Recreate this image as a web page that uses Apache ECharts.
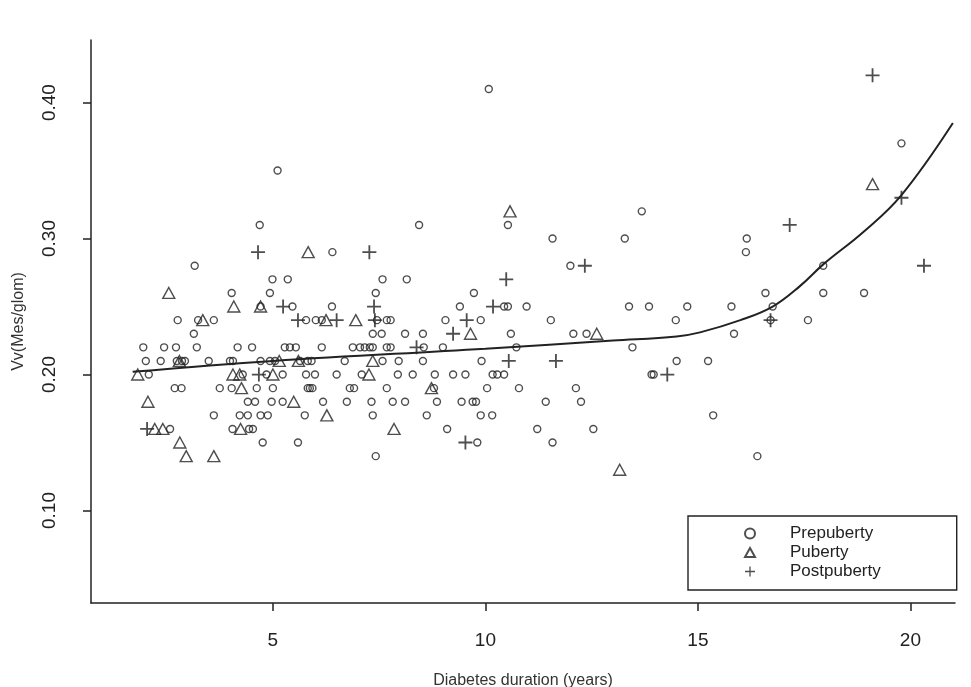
<!DOCTYPE html>
<html>
<head>
<meta charset="utf-8">
<script src="https://cdn.jsdelivr.net/npm/echarts@6/dist/echarts.min.js"></script>
<style>html,body{margin:0;padding:0;background:#fff}#chart{width:971px;height:687px}</style>
</head>
<body>
<div id="chart"></div>
<script>
// values: [duration, Vv]
var prepuberty = [
	[4.03,0.26],[4.93,0.26],[4.99,0.27],[5.35,0.27],[5.46,0.25],[4.71,0.25],
	[2.76,0.24],[3.24,0.24],[3.61,0.24],[5.78,0.24],[3.14,0.23],
	[1.95,0.22],[2.44,0.22],[2.72,0.22],[3.21,0.22],[4.17,0.22],[4.51,0.22],[5.28,0.22],[5.40,0.22],[5.54,0.22],
	[2.01,0.21],[2.36,0.21],[2.74,0.21],[2.86,0.21],[2.93,0.21],[3.49,0.21],[3.99,0.21],[4.06,0.21],[4.71,0.21],[4.93,0.21],[5.05,0.21],[5.64,0.21],[5.82,0.21],
	[2.08,0.20],[4.29,0.20],[4.85,0.20],[5.23,0.20],[5.78,0.20],
	[2.69,0.19],[2.85,0.19],[3.75,0.19],[4.03,0.19],[4.62,0.19],[5.00,0.19],[5.82,0.19],
	[4.41,0.18],[4.58,0.18],[4.97,0.18],[5.23,0.18],
	[3.61,0.17],[4.22,0.17],[4.41,0.17],[4.71,0.17],[4.88,0.17],[5.75,0.17],
	[2.58,0.16],[4.05,0.16],[4.44,0.16],[4.53,0.16],[4.76,0.15],[5.59,0.15],
	[7.58,0.27],[8.15,0.27],[7.42,0.26],[9.73,0.26],
	[6.39,0.25],[9.40,0.25],[10.44,0.25],[10.53,0.25],[10.97,0.25],
	[6.01,0.24],[6.15,0.24],[7.45,0.24],[7.68,0.24],[7.77,0.24],[9.06,0.24],[9.89,0.24],
	[7.35,0.23],[7.56,0.23],[8.11,0.23],[8.53,0.23],[10.60,0.23],
	[6.15,0.22],[6.88,0.22],[7.05,0.22],[7.16,0.22],[7.28,0.22],[7.35,0.22],[7.68,0.22],[7.77,0.22],[8.55,0.22],[9.00,0.22],[10.73,0.22],
	[5.91,0.21],[6.69,0.21],[7.58,0.21],[7.96,0.21],[8.53,0.21],[9.91,0.21],
	[5.99,0.20],[6.50,0.20],[7.09,0.20],[7.94,0.20],[8.29,0.20],[8.81,0.20],[9.24,0.20],[9.53,0.20],[10.17,0.20],[10.28,0.20],[10.44,0.20],
	[5.87,0.19],[5.93,0.19],[6.81,0.19],[6.91,0.19],[7.68,0.19],[8.79,0.19],[10.04,0.19],[10.79,0.19],
	[6.18,0.18],[6.74,0.18],[7.32,0.18],[7.82,0.18],[8.11,0.18],[8.86,0.18],[9.44,0.18],[9.70,0.18],[9.78,0.18],
	[7.35,0.17],[8.62,0.17],[9.89,0.17],[10.16,0.17],[9.10,0.16],[9.81,0.15],[7.42,0.14],
	[10.08,0.41],[5.11,0.35],[13.68,0.32],[10.53,0.31],[4.69,0.31],[8.44,0.31],
	[11.58,0.30],[13.28,0.30],[16.15,0.30],[16.13,0.29],[6.40,0.29],[12.00,0.28],[3.16,0.28],
	[16.59,0.26],[13.38,0.25],[13.85,0.25],[14.75,0.25],[15.79,0.25],[16.76,0.25],
	[11.54,0.24],[14.48,0.24],[16.71,0.24],[12.07,0.23],[12.38,0.23],[15.85,0.23],
	[13.46,0.22],[14.50,0.21],[15.24,0.21],[13.91,0.20],[13.96,0.20],[12.13,0.19],
	[11.42,0.18],[12.25,0.18],[15.36,0.17],[11.22,0.16],[12.54,0.16],[11.58,0.15],[16.40,0.14],
	[19.79,0.37],[17.95,0.28],[17.95,0.26],[18.91,0.26],[17.59,0.24]
]
var puberty = [
	[2.55,0.26],[4.08,0.25],[4.71,0.25],[3.35,0.24],[2.80,0.21],[5.60,0.21],[5.15,0.21],
	[1.82,0.20],[4.06,0.20],[4.22,0.20],[5.00,0.20],[4.26,0.19],[2.06,0.18],[5.49,0.18],
	[2.22,0.16],[2.41,0.16],[4.24,0.16],[2.81,0.15],[2.96,0.14],[3.61,0.14],
	[6.25,0.24],[6.95,0.24],[9.65,0.23],[7.35,0.21],[7.26,0.20],[8.73,0.19],[6.27,0.17],[7.85,0.16],
	[10.58,0.32],[12.62,0.23],[13.16,0.13],[5.83,0.29],[19.11,0.34]
]
var postpuberty = [
	[4.67,0.20],[2.04,0.16],[5.24,0.25],[5.59,0.24],[10.49,0.27],[7.38,0.25],[10.18,0.25],
	[6.50,0.24],[7.40,0.24],[9.56,0.24],[9.24,0.23],[8.38,0.22],[10.55,0.21],[9.53,0.15],
	[12.34,0.28],[11.66,0.21],[14.28,0.20],[16.71,0.24],[17.16,0.31],[4.65,0.29],[7.27,0.29],
	[19.11,0.42],[19.79,0.33],[20.32,0.28]
]
var smoothFit = [
	[1.7,0.202],[5,0.210],[10,0.219],[13,0.225],[14.5,0.228],[15.05,0.231],[16,0.240],
	[16.76,0.250],[17.4,0.265],[17.95,0.281],[18.9,0.305],[19.79,0.332],[21,0.385]
]
var xTicks = [5, 10, 15, 20]
var yTicks = [0.1, 0.2, 0.3, 0.4]

var TRI = 'path://M5,0 L10,9 L0,9 Z'
var PLUS = 'path://M4.35,0 L5.65,0 L5.65,4.35 L10,4.35 L10,5.65 L5.65,5.65 L5.65,10 L4.35,10 L4.35,5.65 L0,5.65 L0,4.35 L4.35,4.35 Z'
var font = 'Liberation Sans'

var chart = echarts.init(document.getElementById('chart'))
var markStyle = { color: 'transparent', borderColor: '#222', borderWidth: 1.4 }

chart.setOption({
	animation: false,
	backgroundColor: '#fff',
	textStyle: { fontFamily: font },
	grid: { left: 91, right: 16, top: 40, bottom: 84, containLabel: false, outerBoundsMode: 'none' },
	xAxis: {
		type: 'value', min: 0.72, max: 21.05,
		name: 'Diabetes duration (years)', nameLocation: 'middle', nameGap: 70,
		nameTextStyle: { fontSize: 16, color: '#333' },
		axisLine: { lineStyle: { color: '#222', width: 1.5 } },
		axisTick: { length: 8, customValues: xTicks, lineStyle: { color: '#222', width: 1.5 } },
		axisLabel: { customValues: xTicks, margin: 28, fontSize: 19, color: '#222' },
		splitLine: { show: false }
	},
	yAxis: {
		type: 'value', min: 0.032, max: 0.446,
		name: 'Vv(Mes/glom)', nameLocation: 'middle', nameGap: 64, nameRotate: 90,
		nameTextStyle: { fontSize: 16, color: '#333' },
		axisLine: { show: true, lineStyle: { color: '#222', width: 1.5 } },
		axisTick: { show: true, length: 8, customValues: yTicks, lineStyle: { color: '#222', width: 1.5 } },
		axisLabel: { customValues: yTicks, rotate: 90, margin: 32, fontSize: 19, color: '#222',
			formatter: function (v) { return v.toFixed(2) } },
		splitLine: { show: false }
	},
	legend: {
		left: 688, top: 516, orient: 'vertical',
		padding: [9, 76, 10, 56], itemGap: 2, itemWidth: 10, itemHeight: 10,
		borderColor: '#222', borderWidth: 1.4, backgroundColor: '#fff',
		textStyle: { fontSize: 17, color: '#222', padding: [0, 0, 0, 30] },
		data: [
			{ name: 'Prepuberty', icon: 'circle' },
			{ name: 'Puberty', icon: TRI },
			{ name: 'Postpuberty', icon: PLUS }
		]
	},
	series: [
		{ name: 'Prepuberty', type: 'scatter', symbol: 'circle', symbolSize: 7, itemStyle: markStyle, data: prepuberty },
		{ name: 'Puberty', type: 'scatter', symbol: TRI, symbolSize: [12, 11], itemStyle: markStyle, data: puberty },
		{ name: 'Postpuberty', type: 'scatter', symbol: PLUS, symbolSize: 14,
			itemStyle: { color: '#222', borderWidth: 0 }, data: postpuberty },
		{ name: 'fit', type: 'line', smooth: 0.4, showSymbol: false, data: smoothFit,
			lineStyle: { color: '#222', width: 2 } }
	]
})
</script>
</body>
</html>
